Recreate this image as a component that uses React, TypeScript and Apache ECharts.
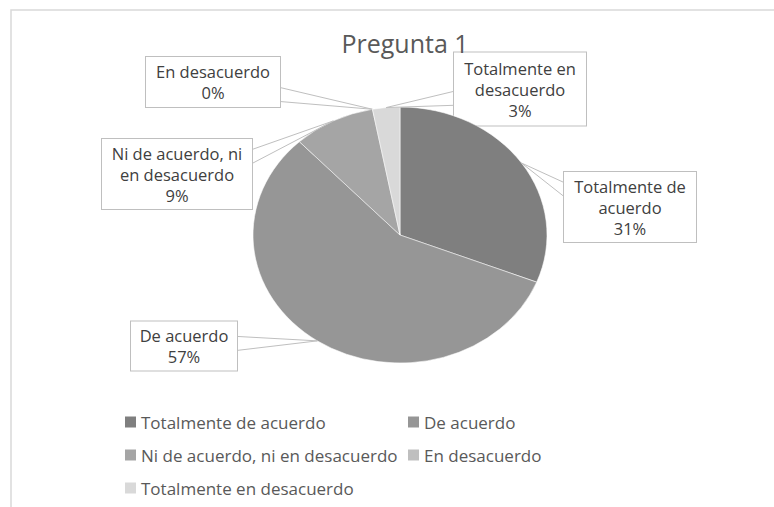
import React, { useEffect, useRef } from "react";
import * as echarts from "echarts";

const categories = [
  "Totalmente de acuerdo",
  "De acuerdo",
  "Ni de acuerdo, ni en desacuerdo",
  "En desacuerdo",
  "Totalmente en desacuerdo",
];
const values = [31, 57, 9, 0, 3];
const labelNames = [
  "Totalmente de\nacuerdo",
  "De acuerdo",
  "Ni de acuerdo, ni\nen desacuerdo",
  "En desacuerdo",
  "Totalmente en\ndesacuerdo",
];
const colors = ["#7f7f7f", "#969696", "#a5a5a5", "#bfbfbf", "#d9d9d9"];

// layout (not data): label box centre x, centre y, width, height
const boxPos = [
  [630, 207, 132, 70],
  [184, 346, 106, 49],
  [177, 174, 150, 70],
  [213, 82, 134, 50],
  [520, 89, 132, 73],
];
const CX = 400;
const CY = 235;
const RX = 147;
const RY = 128;

const FONT = "'Open Sans', 'Noto Sans', sans-serif";

export default function App() {
  const ref = useRef<HTMLDivElement>(null);
  useEffect(() => {
    const chart = echarts.init(ref.current!, undefined, { renderer: "svg" });
    const total = values.reduce((a, b) => a + b, 0);
    const legendBase = {
      orient: "vertical",
      top: 412,
      height: 120,
      padding: 0,
      itemWidth: 11,
      itemHeight: 11,
      itemGap: 13,
      itemTextGap: 7,
      icon: "rect",
      textStyle: { fontFamily: FONT, fontSize: 17, color: "#595959", lineHeight: 20 },
    };
    chart.setOption({
      animation: false,
      title: {
        text: "Pregunta 1",
        left: 400,
        top: 25,
        textAlign: "center",
        textStyle: { fontFamily: FONT, fontSize: 25, fontWeight: "normal", color: "#595959" },
      },
      graphic: [
        {
          type: "rect",
          shape: { x: 11, y: 10, width: 800, height: 600 },
          style: { fill: "none", stroke: "#d9d9d9", lineWidth: 1.5 },
          silent: true,
        },
      ],
      legend: [
        { ...legendBase, left: 125, data: [categories[0], categories[2], categories[4]] },
        { ...legendBase, left: 408, data: [categories[1], categories[3]] },
      ],
      series: [
        {
          // circular pie (fully hidden beneath the elliptical rendering) providing labels + legend
          type: "pie",
          z: 2,
          center: [CX, CY],
          radius: 118,
          startAngle: 90,
          clockwise: true,
          color: colors,
          data: categories.map((c, i) => ({
            name: c,
            value: values[i],
            label: { width: boxPos[i][2] - 8, height: boxPos[i][3] - 8 },
          })),
          label: {
            show: true,
            position: "outside",
            formatter: (p: any) => labelNames[p.dataIndex] + "\n" + Math.round(p.percent) + "%",
            fontFamily: FONT,
            fontSize: 16.5,
            lineHeight: 21,
            color: "#404040",
            align: "center",
            verticalAlign: "middle",
            backgroundColor: "#ffffff",
            borderColor: "#bfbfbf",
            borderWidth: 1,
            padding: [4, 4],
          },
          labelLine: { show: false },
          labelLayout: (p: any) => {
            const b = boxPos[p.dataIndex];
            return { x: b[0], y: b[1], align: "center", verticalAlign: "middle" };
          },
        },
        {
          // elliptical slices + callout pointers, angles from the values
          type: "custom",
          coordinateSystem: "none",
          z: 3,
          silent: true,
          data: values.map((v, i) => [v, i]),
          renderItem: (params: any) => {
            const i = params.dataIndex;
            let before = 0;
            for (let j = 0; j < i; j++) before += values[j];
            const start = -Math.PI / 2 + (before / total) * Math.PI * 2;
            const end = start + (values[i] / total) * Math.PI * 2;
            const mid = (start + end) / 2;
            const ax = CX + RX * Math.cos(mid);
            const ay = CY + RY * Math.sin(mid);
            const [bx, by, bw, bh] = boxPos[i];
            const l = bx - bw / 2, r = bx + bw / 2, t = by - bh / 2, btm = by + bh / 2;
            let pts: number[][];
            const hw = 7;
            const clamp = (v: number, a: number, b: number) => Math.max(a, Math.min(b, v));
            if (ax < l || ax > r) {
              const sx = ax < l ? l : r;
              const yy = (clamp(ay, t, btm) + by) / 2;
              pts = [[sx, yy - hw], [ax, ay], [sx, yy + hw]];
            } else {
              const sy = ay < t ? t : btm;
              const xx = (clamp(ax, l, r) + bx) / 2;
              pts = [[xx - hw, sy], [ax, ay], [xx + hw, sy]];
            }
            const children: any[] = [];
            if (end > start) {
              children.push({
                type: "sector",
                shape: { cx: 0, cy: 0, r: RX, r0: 0, startAngle: start, endAngle: end, clockwise: true },
                x: CX,
                y: CY,
                scaleY: RY / RX,
                style: { fill: colors[i], stroke: "#ffffff", lineWidth: 0.6 },
              });
            }
            children.push({
              type: "polyline",
              shape: { points: pts },
              style: { fill: "none", stroke: "#bfbfbf", lineWidth: 1 },
            });
            return { type: "group", children };
          },
        },
      ],
    });
    return () => chart.dispose();
  }, []);
  return (
    <div
      ref={ref}
      style={{ position: "absolute", left: 0, top: 0, width: 774, height: 507, background: "#fff" }}
    />
  );
}
